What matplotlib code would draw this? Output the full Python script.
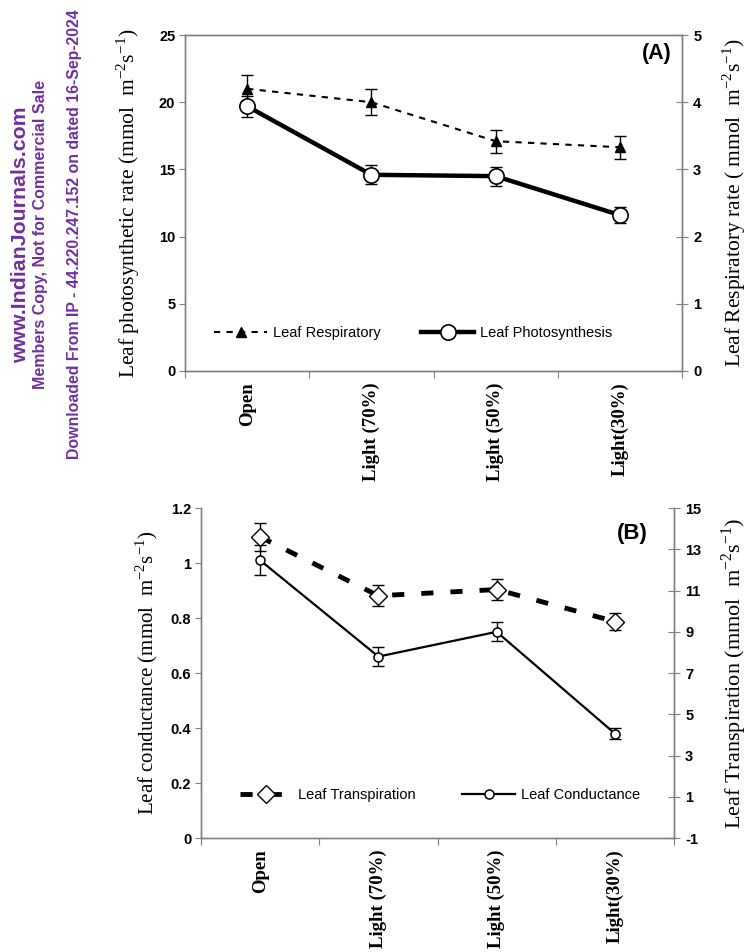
import matplotlib
matplotlib.use("Agg")
import matplotlib.pyplot as plt
import numpy as np

## Data
categories = ["Open", "Light (70%)", "Light (50%)", "Light(30%)"]

photosynthesis = [19.7, 14.6, 14.5, 11.6]
photosynthesis_err = [0.8, 0.7, 0.7, 0.6]
respiratory = [4.2, 4.0, 3.42, 3.33]
respiratory_err = [0.2, 0.19, 0.17, 0.17]

conductance = [1.01, 0.66, 0.75, 0.38]
conductance_err = [0.055, 0.033, 0.035, 0.02]
transpiration = [13.6, 10.75, 11.05, 9.5]
transpiration_err = [0.7, 0.5, 0.5, 0.4]

watermark = ["www.IndianJournals.com",
             "Members Copy, Not for Commercial Sale",
             "Downloaded From IP - 44.220.247.152 on dated 16-Sep-2024"]

SANS = "Liberation Sans"
SERIF = "Liberation Serif"
SPINE = "#808080"
PURPLE = "#7030A0"
sup2 = r"$^{\mathregular{-2}}$"
sup1 = r"$^{\mathregular{-1}}$"

plt.rcParams["axes.unicode_minus"] = False


def style_axes(ax, ax2, top_spine):
    ## spines and ticks in the excel look
    for a in (ax, ax2):
        for s in a.spines.values():
            s.set_color(SPINE)
            s.set_linewidth(1)
        a.spines["top"].set_visible(top_spine)
    ax.set_xlim(0, 4)
    ax.set_xticks(np.arange(5))
    ax.set_xticklabels([])
    ax.set_xticks(np.arange(4) + 0.5, minor=True)
    ax.set_xticklabels(categories, minor=True, rotation=90,
                       fontfamily=SERIF, fontweight="bold", fontsize=13.5)
    ax.tick_params(axis="x", which="major", direction="out", length=5, color=SPINE)
    ax.tick_params(axis="x", which="minor", length=0, pad=8)
    ax.tick_params(axis="y", direction="out", length=4, color=SPINE, pad=3)
    ax2.tick_params(axis="y", direction="inout", length=8, color=SPINE, pad=4)
    for lab in ax.get_yticklabels() + ax2.get_yticklabels():
        lab.set_fontfamily(SANS)
        lab.set_fontweight("bold")
        lab.set_fontsize(10.5)


fig = plt.figure(figsize=(7.47, 9.52), dpi=100)
x = np.arange(len(categories)) + 0.5

## Panel A
axA = fig.add_axes([0.2477, 0.6103, 0.6653, 0.3529])
axA2 = axA.twinx()
axA.set_ylim(0, 25)
axA.set_yticks([0, 5, 10, 15, 20, 25])
axA2.set_ylim(0, 5)
axA2.set_yticks([0, 1, 2, 3, 4, 5])

axA2.errorbar(x, respiratory, yerr=respiratory_err, fmt="none", ecolor="black",
              elinewidth=1, capsize=4, capthick=1)
resp_line, = axA2.plot(x, respiratory, color="black", lw=1.5, dashes=(3, 3),
                       marker="^", ms=7, mfc="black", mec="black",
                       label="Leaf Respiratory")
axA.errorbar(x, photosynthesis, yerr=photosynthesis_err, fmt="none", ecolor="black",
             elinewidth=1, capsize=4, capthick=1)
photo_line, = axA.plot(x, photosynthesis, color="black", lw=3.2, marker="o",
                       ms=11, mfc="white", mec="black", mew=1.2,
                       label="Leaf Photosynthesis")
axA.set_zorder(axA2.get_zorder() + 1)
axA.patch.set_visible(False)

style_axes(axA, axA2, True)
axA.set_ylabel("Leaf photosynthetic rate (mmol  m" + sup2 + "s" + sup1 + ")",
               fontfamily=SERIF, fontsize=15.5)
axA.yaxis.set_label_coords(-0.087, 0.5)
axA2.set_ylabel("Leaf Respiratory rate ( mmol  m" + sup2 + "s" + sup1 + ")",
                fontfamily=SERIF, fontsize=15.5)
axA2.yaxis.set_label_coords(1.078, 0.5)
axA.text(0.98, 0.946, "(A)", transform=axA.transAxes, ha="right", va="center",
         fontfamily=SANS, fontweight="bold", fontsize=15.5)
axA.legend(handles=[resp_line, photo_line], loc="center", bbox_to_anchor=(0.459, 0.113),
           ncol=2, frameon=False, handlelength=3.6, handletextpad=0.4,
           columnspacing=2.8, prop={"family": SANS, "size": 10.5})

## Panel B
axB = fig.add_axes([0.2691, 0.1197, 0.6332, 0.3466])
axB2 = axB.twinx()
axB.set_ylim(0, 1.2)
axB.set_yticks([0, 0.2, 0.4, 0.6, 0.8, 1.0, 1.2])
axB.set_yticklabels(["0", "0.2", "0.4", "0.6", "0.8", "1", "1.2"])
axB2.set_ylim(-1, 15)
axB2.set_yticks([-1, 1, 3, 5, 7, 9, 11, 13, 15])

axB2.errorbar(x, transpiration, yerr=transpiration_err, fmt="none", ecolor="black",
              elinewidth=1, capsize=4, capthick=1)
trans_line, = axB2.plot(x, transpiration, color="black", lw=3.5, dashes=(2.5, 3.5),
                        marker="D", ms=9.5, mfc="white", mec="black", mew=1,
                        label="Leaf Transpiration")
axB.errorbar(x, conductance, yerr=conductance_err, fmt="none", ecolor="black",
             elinewidth=1, capsize=4, capthick=1)
cond_line, = axB.plot(x, conductance, color="black", lw=1.6, marker="o",
                      ms=6.5, mfc="white", mec="black", mew=1.1,
                      label="Leaf Conductance")

style_axes(axB, axB2, False)
axB.set_ylabel("Leaf conductance (mmol  m" + sup2 + "s" + sup1 + ")",
               fontfamily=SERIF, fontsize=15)
axB.yaxis.set_label_coords(-0.087, 0.5)
axB2.set_ylabel("Leaf Transpiration (mmol  m" + sup2 + "s" + sup1 + ")",
                fontfamily=SERIF, fontsize=16)
axB2.yaxis.set_label_coords(1.095, 0.5)
axB.text(0.945, 0.924, "(B)", transform=axB.transAxes, ha="right", va="center",
         fontfamily=SANS, fontweight="bold", fontsize=16)
axB2.legend(handles=[trans_line, cond_line], loc="center", bbox_to_anchor=(0.505, 0.13),
            ncol=2, frameon=False, handlelength=3.6, handletextpad=0.4,
            columnspacing=3.2, prop={"family": SANS, "size": 10.5})

## Watermark down the left edge
for txt, xpos, size in zip(watermark, [0.027, 0.054, 0.100], [15.3, 11.5, 11.4]):
    fig.text(xpos, 0.754, txt, rotation=90, ha="center", va="center",
             color=PURPLE, fontfamily=SANS, fontweight="bold", fontsize=size)

fig.savefig("out.png", dpi=100)
